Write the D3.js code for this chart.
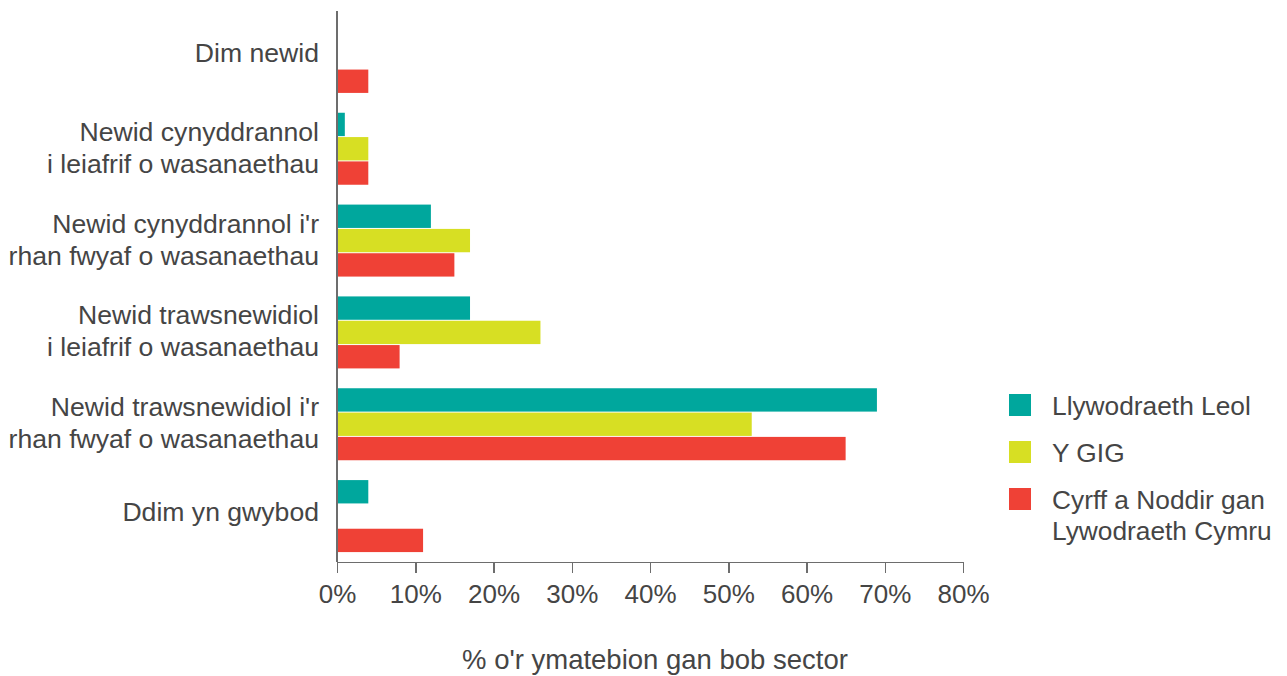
<!DOCTYPE html>
<html lang="cy">
<head>
<meta charset="utf-8">
<title>Newid i wasanaethau</title>
<script src="https://cdn.jsdelivr.net/npm/d3@7"></script>
<style>
  body { margin: 0; background: #fff; }
  text { font-family: "Liberation Sans", Arial, sans-serif; fill: #454545; }
  .axis path, .axis line { stroke: #6d6d6d; stroke-width: 1.5; shape-rendering: crispEdges; }
  .axis text { font-size: 26px; fill: #454545; }
</style>
</head>
<body>
<div id="chart"></div>
<script>
// categories, top to bottom (each label split into its lines)
var categories = [
  ["Dim newid"],
  ["Newid cynyddrannol", "i leiafrif o wasanaethau"],
  ["Newid cynyddrannol i'r", "rhan fwyaf o wasanaethau"],
  ["Newid trawsnewidiol", "i leiafrif o wasanaethau"],
  ["Newid trawsnewidiol i'r", "rhan fwyaf o wasanaethau"],
  ["Ddim yn gwybod"]
];
var seriesNames = ["Llywodraeth Leol", "Y GIG", "Cyrff a Noddir gan Llywodraeth Cymru"];
var legendLines = [["Llywodraeth Leol"], ["Y GIG"], ["Cyrff a Noddir gan", "Lywodraeth Cymru"]];
var llywodraethLeol = [0, 1, 12, 17, 69, 4];
var yGIG = [0, 4, 17, 26, 53, 0];
var cyrff = [4, 4, 15, 8, 65, 11];
var xTicks = [0, 10, 20, 30, 40, 50, 60, 70, 80];
var colours = ["#00a79d", "#d7df23", "#ef4136"];

var W = 1287, H = 676;
var margin = { left: 337, right: 963, top: 11, bottom: 562 };

var svg = d3.select("#chart").append("svg")
  .attr("width", W).attr("height", H);

var catKeys = categories.map(function(d, i) { return "c" + i; });

var x = d3.scaleLinear().domain([0, 80]).range([margin.left, margin.right]);
var y0 = d3.scaleBand().domain(catKeys).range([margin.top, margin.bottom])
  .paddingInner(0.216).paddingOuter(0.108);
var y1 = d3.scaleBand().domain(seriesNames).range([0, y0.bandwidth()]).paddingInner(0.04);
var colour = d3.scaleOrdinal().domain(seriesNames).range(colours);

var rows = catKeys.map(function(k, i) {
  return { key: k, values: [llywodraethLeol[i], yGIG[i], cyrff[i]] };
});

// bars
svg.append("g").selectAll("g")
  .data(rows).enter().append("g")
  .attr("transform", function(d) { return "translate(0," + y0(d.key) + ")"; })
  .selectAll("rect")
  .data(function(d) { return seriesNames.map(function(s, j) { return { key: s, value: d.values[j] }; }); })
  .enter().append("rect")
  .attr("x", x(0))
  .attr("y", function(d) { return y1(d.key); })
  .attr("width", function(d) { return x(d.value) - x(0); })
  .attr("height", y1.bandwidth())
  .attr("fill", function(d) { return colour(d.key); });

// x axis
svg.append("g")
  .attr("class", "axis")
  .attr("transform", "translate(0," + margin.bottom + ")")
  .call(d3.axisBottom(x).tickValues(xTicks).tickSize(11).tickSizeOuter(0)
    .tickFormat(function(d) { return d + "%"; }))
  .selectAll("text").attr("dy", "1.05em");

// y axis line
svg.append("g")
  .attr("class", "axis")
  .attr("transform", "translate(" + margin.left + ",0)")
  .call(d3.axisLeft(y0).tickSize(0).tickSizeOuter(0).tickFormat(""))
  .select(".domain").attr("d", "M0," + margin.top + "V" + margin.bottom);

// category labels
var labels = svg.append("g").selectAll("text")
  .data(categories).enter().append("text")
  .attr("text-anchor", "end")
  .style("font-size", "26.6px");
labels.each(function(lines, i) {
  var c = y0(catKeys[i]) + y0.bandwidth() / 2;
  var n = lines.length;
  d3.select(this).selectAll("tspan").data(lines).enter().append("tspan")
    .attr("x", 319)
    .attr("y", function(l, k) { return c + 5 + 3 * (n - 1) + (k - (n - 1) / 2) * 32; })
    .text(function(l) { return l; });
});

// axis title
svg.append("text")
  .attr("x", 655).attr("y", 669)
  .attr("text-anchor", "middle")
  .style("font-size", "27.5px")
  .text("% o'r ymatebion gan bob sector");

// legend
var legend = svg.append("g").selectAll("g")
  .data(seriesNames).enter().append("g")
  .attr("transform", function(d, i) { return "translate(1009," + (394 + i * 47) + ")"; });
legend.append("rect")
  .attr("width", 22).attr("height", 22)
  .attr("fill", function(d) { return colour(d); });
legend.append("text")
  .style("font-size", "26.3px")
  .selectAll("tspan")
  .data(function(d, i) { return legendLines[i]; })
  .enter().append("tspan")
  .attr("x", 43)
  .attr("y", function(l, k) { return 21 + k * 31; })
  .text(function(l) { return l; });
</script>
</body>
</html>
